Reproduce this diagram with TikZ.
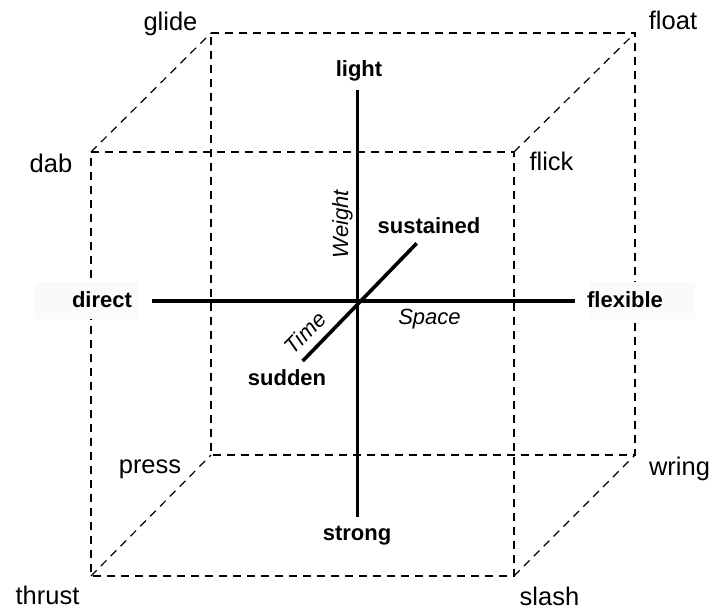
\documentclass[tikz,border=0pt]{standalone}
\usepackage{fontspec}
\setmainfont{Liberation Sans}
\definecolor{bandgray}{HTML}{FAFAFA}
\begin{document}
\begin{tikzpicture}[x=1pt,y=-1pt,
  edge/.style={dash pattern=on 8pt off 6pt, line width=1.2pt},
  axis/.style={line width=3.6pt},
  corner/.style={font=\fontsize{25.5}{30}\selectfont, inner sep=0pt, anchor=base},
  pole/.style={font=\fontsize{22}{26}\selectfont\bfseries, inner sep=0pt, anchor=base},
  dimlabel/.style={font=\fontsize{22}{26}\selectfont\itshape, inner sep=0pt},
  bandbox/.style={fill=bandgray, draw=none, inner sep=0pt, minimum height=37pt}]
\useasboundingbox (0,0) rectangle (713,610);
% cube corners
\coordinate (FTL) at (91,152);
\coordinate (FTR) at (514,152);
\coordinate (FBL) at (91,576);
\coordinate (FBR) at (514,576);
\coordinate (BTL) at (211,33);
\coordinate (BTR) at (635,33);
\coordinate (BBL) at (211,455);
\coordinate (BBR) at (635,455);
% cube edges
\draw[edge] (BTL) -- (BTR) -- (BBR) -- (BBL) -- cycle;
\draw[edge] (FTL) -- (FTR) -- (FBR) -- (FBL) -- cycle;
\draw[edge] (FTL) -- (BTL);
\draw[edge] (FTR) -- (BTR);
\draw[edge] (FBL) -- (BBL);
\draw[edge] (FBR) -- (BBR);
% label backgrounds
\node[bandbox, minimum width=103pt] (directbg) at (86.5,300.5) {};
\node[bandbox, minimum width=105pt] (flexbg) at (642.5,300.5) {};
% axes
\coordinate (wtop) at (357.5,90);
\coordinate (wbot) at (357.5,517);
\coordinate (sleft) at (151.5,301);
\coordinate (sright) at (575,301);
\coordinate (tlow) at (302.7,361);
\coordinate (thigh) at (416.7,243.3);
\draw[axis] (wtop) -- (wbot);
\draw[axis] (sleft) -- (sright);
\draw[axis] (tlow) -- (thigh);
% pole labels
\node[pole] (light) at (359,77) {light};
\node[pole] (strong) at (357,540) {strong};
\node[pole] (direct) at (102,307) {direct};
\node[pole] (flexible) at (625,307) {flexible};
\node[pole] (sustained) at (429,233) {sustained};
\node[pole] (sudden) at (287,385) {sudden};
% dimension labels
\node[dimlabel, rotate=90, anchor=base] (weight) at (348,224) {Weight};
\node[dimlabel, anchor=base] (space) at (429.5,324) {Space};
\node[dimlabel, rotate=46, anchor=center] (time) at (305,333) {Time};
% corner labels
\node[corner] (glide) at (170.5,31) {glide};
\node[corner] (float) at (673,30) {float};
\node[corner] (dab) at (51,172) {dab};
\node[corner] (flick) at (551.5,171) {flick};
\node[corner] (press) at (150,473) {press};
\node[corner] (wring) at (679.5,475) {wring};
\node[corner] (thrust) at (47.5,604) {thrust};
\node[corner] (slash) at (549.5,605) {slash};
\end{tikzpicture}
\end{document}
